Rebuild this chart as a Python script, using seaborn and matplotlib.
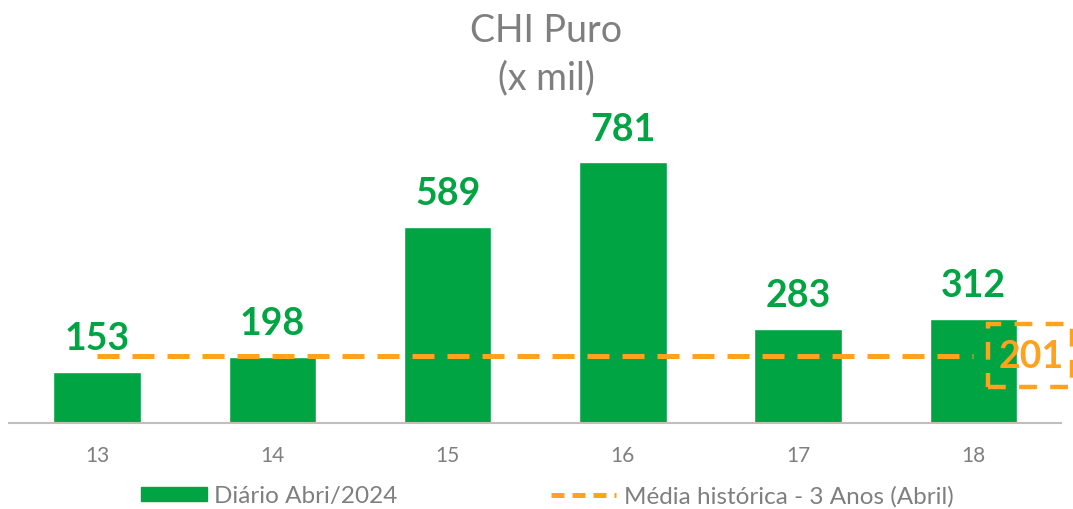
import matplotlib
matplotlib.use("Agg")
import matplotlib.pyplot as plt
import matplotlib.patches as mpatches
from matplotlib.lines import Line2D
import seaborn as sns

# ── data ──────────────────────────────────────────────────────────────────────
dias    = ["13", "14", "15", "16", "17", "18"]
diario  = [153, 198, 589, 781, 283, 312]
media   = 201

GREEN  = "#00A443"
ORANGE = "#FFA21C"
GRAY   = "#7F7F7F"

sns.set_theme(style="white")
plt.rcParams["font.family"] = ["Lato", "DejaVu Sans"]

fig = plt.figure(figsize=(10.73, 5.10), dpi=100)
ax = fig.add_axes([0.0088, 0.1686, 0.98, 0.6214])

sns.barplot(x=dias, y=diario, color=GREEN, width=0.5, saturation=1, ax=ax)
ax.bar_label(ax.containers[0], labels=[str(v) for v in diario], padding=12,
             fontsize=27, fontweight="bold", color=GREEN)

# média histórica
ax.hlines(media, 0, len(dias) - 1, colors=ORANGE, linewidth=3.6,
          linestyles=(0, (4.4, 2.6)), zorder=3)
ax.text(len(dias) - 1 + 0.333, media, str(media), ha="center", va="center",
        fontsize=27, fontweight="bold", color=ORANGE, zorder=4)
box = mpatches.Rectangle((len(dias) - 1 + 0.082, 108), 0.48, 188, fill=False,
                         edgecolor=ORANGE, linewidth=3.2,
                         linestyle=(0, (4, 3)), clip_on=False, zorder=4)
ax.add_patch(box)

ax.set_xlim(-0.5, len(dias) - 0.5)
ax.set_ylim(0, 950)
ax.set_yticks([])
ax.set_xlabel("")
ax.set_ylabel("")
for s in ["top", "right", "left"]:
    ax.spines[s].set_visible(False)
ax.spines["bottom"].set_color("#BFBFBF")
ax.spines["bottom"].set_linewidth(1.5)
ax.tick_params(axis="x", length=0, pad=16, labelsize=15, labelcolor=GRAY)

fig.text(0.509, 0.940, "CHI Puro", ha="center", va="center", fontsize=27, color=GRAY)
fig.text(0.509, 0.847, "(x mil)", ha="center", va="center", fontsize=27, color=GRAY)

handles = [mpatches.Patch(color=GREEN, label="Diário Abri/2024"),
           Line2D([0], [0], color=ORANGE, lw=3.6, linestyle=(0, (2.6, 1.6)),
                  label="Média histórica - 3 Anos (Abril)")]
fig.legend(handles=handles, loc="center", bbox_to_anchor=(0.51, 0.026), ncol=2,
           frameon=False, fontsize=17.5, labelcolor=GRAY, handlelength=2.7,
           handleheight=0.55, handletextpad=0.3, columnspacing=6.3)

fig.savefig("out.png", dpi=100)
